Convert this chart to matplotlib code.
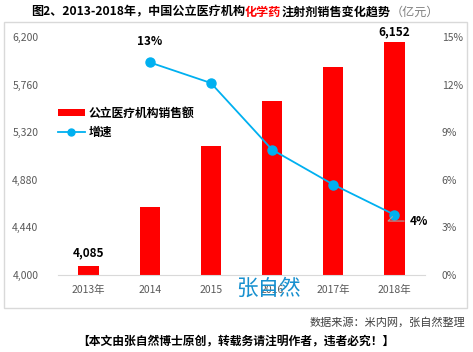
import matplotlib
matplotlib.use('Agg')
import matplotlib.pyplot as plt
import numpy as np
from matplotlib.patches import Rectangle
from matplotlib.lines import Line2D
from matplotlib.patches import Patch

plt.rcParams['font.family'] = ['Noto Sans CJK SC', 'DejaVu Sans']

# data
years = ['2013年', '2014', '2015', '2016', '2017年', '2018年']
sales = [4085, 4632, 5192, 5604, 5925, 6152]
growth = [np.nan, 13.4, 12.1, 7.9, 5.7, 3.8]
left_ticks = [4000, 4440, 4880, 5320, 5760, 6200]
right_ticks = [0, 3, 6, 9, 12, 15]

red = '#FF0000'
blue = '#00B0F0'
gray = '#595959'

fig = plt.figure(figsize=(4.73, 3.52), dpi=100)
ax = fig.add_axes([58 / 473, 1 - 275 / 352, 367 / 473, 238 / 352])
x = np.arange(len(years))

# bars
ax.bar(x, sales, width=0.33, color=red, zorder=2)
ax.set_ylim(4000, 6200)
ax.set_xlim(-0.5, 5.5)
ax.set_yticks(left_ticks)
ax.set_yticklabels([f'{v:,}' for v in left_ticks])
ax.set_xticks(x)
ax.set_xticklabels(years)
ax.tick_params(axis='both', length=0, labelsize=7.5, colors=gray)
ax.tick_params(axis='x', pad=7)
ax.tick_params(axis='y', pad=14)
for s in ['top', 'right', 'left']:
    ax.spines[s].set_visible(False)
ax.spines['bottom'].set_color('#d9d9d9')

# growth line on right axis
ax2 = ax.twinx()
ax2.plot(x, growth, color=blue, lw=1.3, marker='o', markersize=6.5, zorder=3)
ax2.set_ylim(0, 15)
ax2.set_yticks(right_ticks)
ax2.set_yticklabels([f'{v}%' for v in right_ticks])
ax2.tick_params(axis='y', length=0, labelsize=7.5, colors=gray, pad=12)
for s in ['top', 'right', 'left', 'bottom']:
    ax2.spines[s].set_visible(False)

# data labels
ax.text(0, sales[0] + 60, f'{sales[0]:,}', ha='center', va='bottom', fontsize=8.5, fontweight='bold')
ax.text(5, sales[5] + 40, f'{sales[5]:,}', ha='center', va='bottom', fontsize=8.5, fontweight='bold')
ax2.text(1, growth[1] + 0.9, '13%', ha='center', va='bottom', fontsize=8.5, fontweight='bold')
ax2.annotate('4%', xy=(5, growth[5]), xytext=(5.25, growth[5] - 0.4),
             ha='left', va='center', fontsize=8.5, fontweight='bold',
             arrowprops=dict(arrowstyle='-', color='#a6a6a6', lw=0.8,
                             connectionstyle='angle,angleA=0,angleB=45,rad=0'))

# legend
handles = [Patch(facecolor=red, edgecolor='none'),
           Line2D([0], [0], color=blue, lw=1.3, marker='o', markersize=5)]
fig.legend(handles, ['公立医疗机构销售额', '增速'], loc='upper left',
           bbox_to_anchor=(47 / 473, 1 - 96 / 352), frameon=False,
           prop={'size': 8.5, 'weight': 'bold'}, handlelength=2.3,
           handleheight=0.6, handletextpad=0.3, labelspacing=0.55)

# outer frame
fig.patches.append(Rectangle((4 / 473, 1 - 308 / 352), 463 / 473, 286 / 352,
                             transform=fig.transFigure, fill=False,
                             edgecolor='#d9d9d9', lw=1))

# title in pieces
pieces = [('图2、2013-2018年，中国公立医疗机构', 'black', 'bold'),
          ('化学药', red, 'bold'),
          ('注射剂销售变化趋势', 'black', 'bold'),
          ('（亿元）', '#7f7f7f', 'normal')]
renderer = fig.canvas.get_renderer()
texts = []
for s, c, w in pieces:
    t = fig.text(0, 1 - 12 / 352, s, color=c, fontweight=w, fontsize=8.7, va='center')
    texts.append(t)
widths = [t.get_window_extent(renderer).width for t in texts]
xpos = (470 - sum(widths)) / 2
for t, w in zip(texts, widths):
    t.set_x(xpos / 473)
    xpos += w

# watermark and notes
fig.text(268 / 473, 1 - 289 / 352, '张自然', color='#1790cf', fontsize=15.5,
         ha='center', va='center')
fig.text(465 / 473, 1 - 322 / 352, '数据来源：米内网，张自然整理', color='#404040',
         fontsize=8, ha='right', va='center')
fig.text(236 / 473, 1 - 341 / 352, '【本文由张自然博士原创，转载务请注明作者，违者必究！】',
         color='black', fontsize=8.5, fontweight='bold', ha='center', va='center')

fig.savefig('out.png', dpi=100)
